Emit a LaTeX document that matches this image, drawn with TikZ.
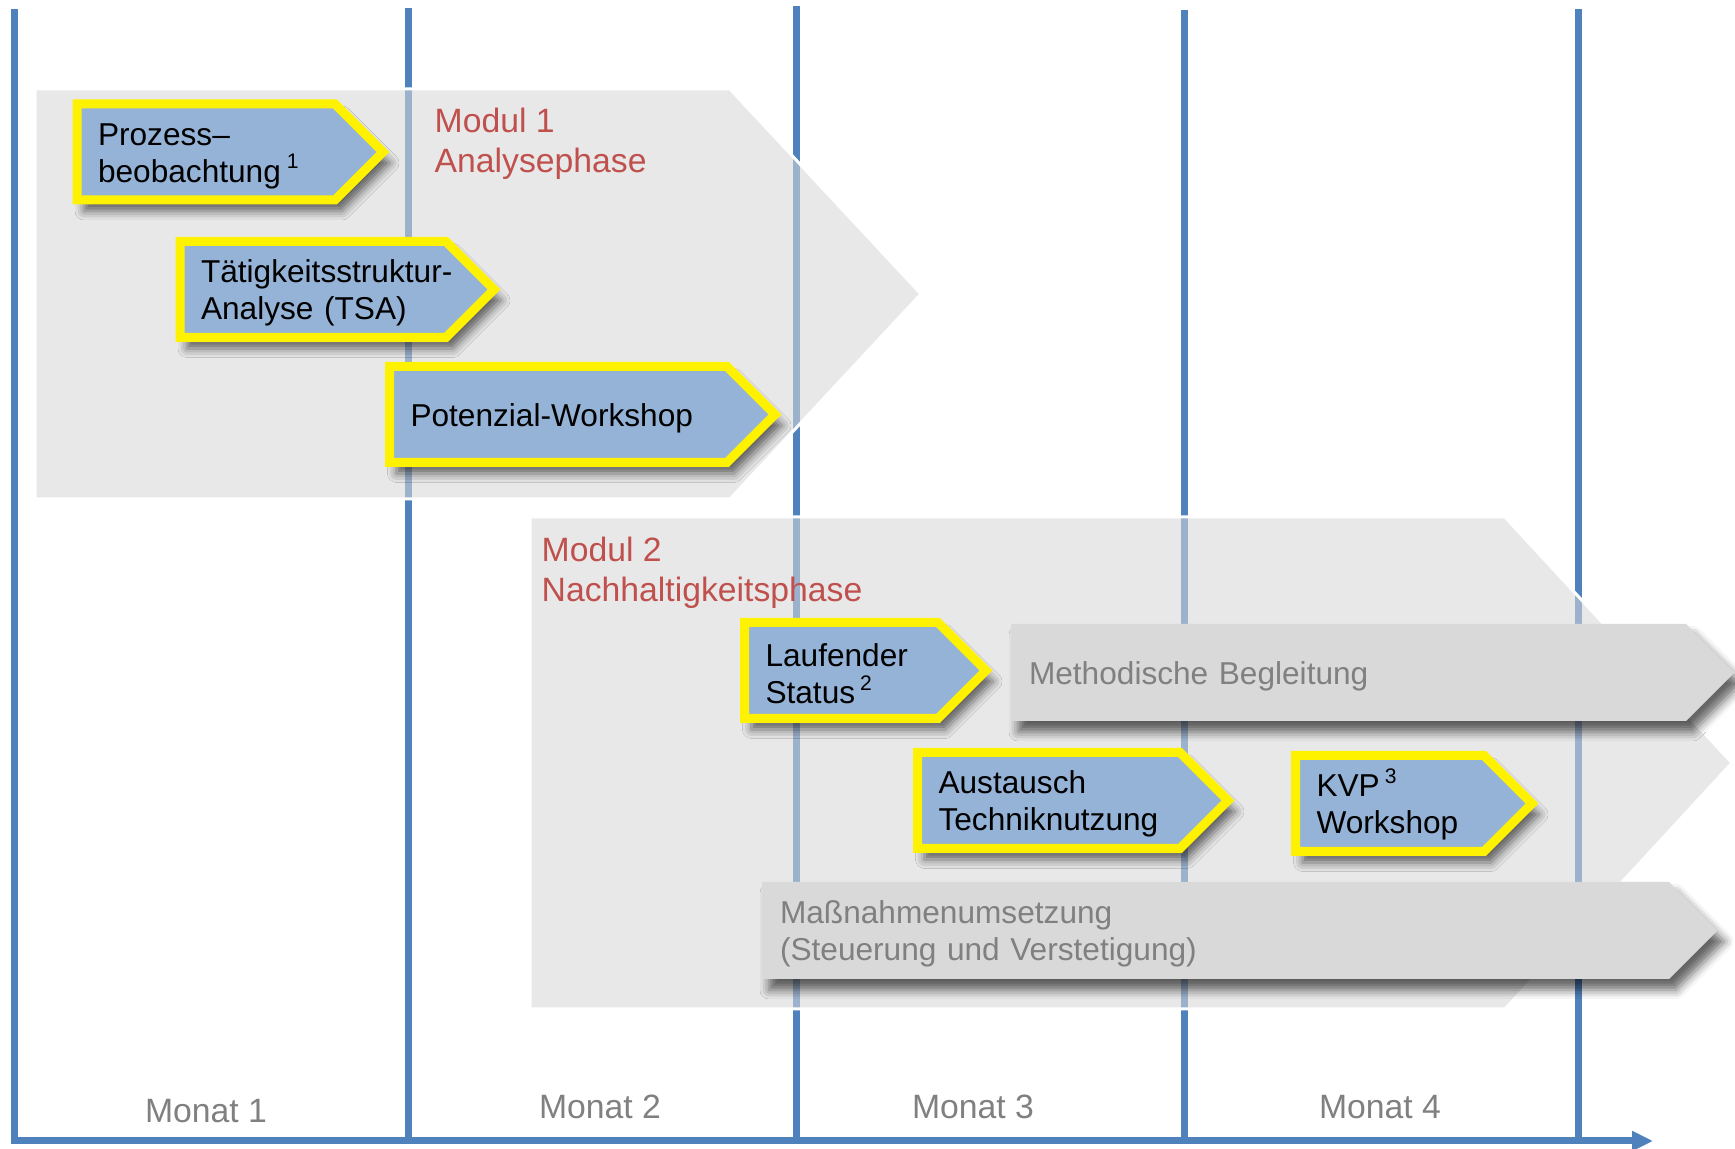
\documentclass[tikz,border=0pt]{standalone}
\usepackage{fontspec}
\setmainfont{Liberation Sans}
\usetikzlibrary{arrows.meta,shapes.symbols,shadows.blur}

\definecolor{gridblue}{HTML}{4F81BD}
\definecolor{taskblue}{HTML}{95B3D7}
\definecolor{phasered}{HTML}{C0504D}
\definecolor{bggray}{HTML}{D7D7D7}
\definecolor{trackgray}{HTML}{D9D9D9}
\definecolor{labelgray}{HTML}{808080}

\begin{document}
\begin{tikzpicture}[
    monthline/.style={gridblue, line width=0.07cm},
    phasebg/.style={fill=bggray, fill opacity=0.57, draw=white, line width=0.03cm},
    softshadow/.style={blur shadow={shadow xshift=0.07cm, shadow yshift=-0.11cm, shadow blur radius=0.09cm, shadow opacity=60}},
    task/.style={signal, signal to=east, signal pointer angle=90, softshadow, draw=yellow, line width=0.09cm, fill=taskblue, minimum height=0.96cm, inner xsep=0.21cm, inner ysep=0pt, outer sep=0pt, align=left, anchor=west, font=\fontsize{9}{10.6}\selectfont, execute at begin node={\rule{0pt}{0.30cm}}},
    track/.style={task, draw=none, fill=trackgray, text=labelgray, minimum height=0.97cm, inner xsep=0.18cm},
    phase/.style={text=phasered, align=left, anchor=north west, inner sep=0pt, font=\fontsize{9.6}{11.4}\selectfont},
    month/.style={text=labelgray, anchor=base, inner sep=0pt, font=\fontsize{9.6}{11.4}\selectfont}
]
\useasboundingbox (0,0) rectangle (17.35,11.49);

% month grid and time axis
\foreach \x/\t in {0.145/11.40, 4.085/11.41, 7.965/11.43, 11.84/11.39, 15.785/11.40}
    \draw[monthline] (\x,\t) -- (\x,0.08);
\coordinate (t0) at (0.11,0.08);
\coordinate (t1) at (16.53,0.08);
\draw[monthline, -{Triangle[length=0.21cm, width=0.19cm]}] (t0) -- (t1);

% phases
\path[phasebg] (0.35,10.60) -- (7.30,10.60) -- (9.21,8.55) -- (7.30,6.50) -- (0.35,6.50) -- cycle;
\path[phasebg] (5.30,6.32) -- (15.05,6.32) -- (17.32,3.86) -- (15.05,1.40) -- (5.30,1.40) -- cycle;
\node[phase] (mod1) at (4.34,10.42) {Modul 1\\Analysephase};
\node[phase] (mod2) at (5.41,6.13) {Modul 2\\Nachhaltigkeitsphase};

\node[track, text width=6.39cm] (beg) at (10.11,4.765) {Methodische Begleitung};
\node[track, text width=8.71cm] (mass) at (7.62,2.185) {Maßnahmenumsetzung\\(Steuerung und Verstetigung)};

\node[task, text width=2.16cm] (proz) at (0.77,9.97) {Prozess–\\beobachtung\hspace{0.06cm}\textsuperscript{1}};
\node[task, text width=2.24cm] (tsa) at (1.80,8.595) {\mbox{Tätigkeitsstruktur-}\\Analyse (TSA)};
\node[task, text width=2.955cm] (pot) at (3.895,7.345) {Potenzial-Workshop};
\node[task, text width=1.515cm] (lauf) at (7.445,4.785) {Laufender\\Status\hspace{0.05cm}\textsuperscript{2}};
\node[task, text width=2.205cm] (aust) at (9.175,3.485) {Austausch\\Techniknutzung};
\node[task, text width=1.465cm] (kvp) at (12.955,3.455) {KVP\hspace{0.05cm}\textsuperscript{3}\\Workshop};

\node[month] (m1) at (2.06,0.26) {Monat 1};
\node[month] (m2) at (6.00,0.30) {Monat 2};
\node[month] (m3) at (9.73,0.30) {Monat 3};
\node[month] (m4) at (13.80,0.30) {Monat 4};
\end{tikzpicture}
\end{document}
